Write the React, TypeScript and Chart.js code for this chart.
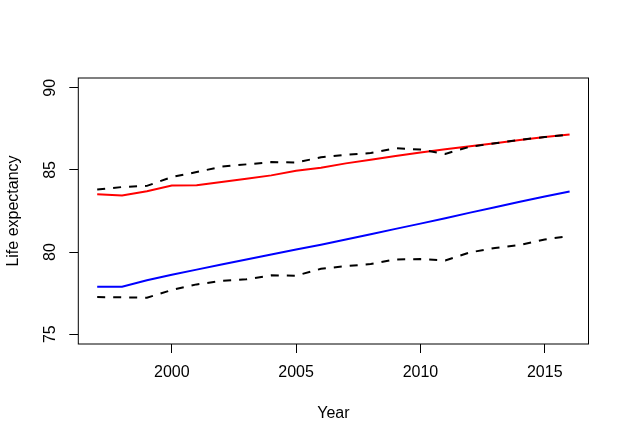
import React, { useEffect, useRef } from 'react';
import Chart from 'chart.js/auto';

const years = [1997, 1998, 1999, 2000, 2001, 2002, 2003, 2004, 2005, 2006, 2007, 2008, 2009, 2010, 2011, 2012, 2013, 2014, 2015, 2016];
const femaleLine = [83.52, 83.45, 83.7, 84.05, 84.07, 84.26, 84.47, 84.67, 84.95, 85.13, 85.4, 85.62, 85.85, 86.06, 86.26, 86.45, 86.62, 86.82, 87.0, 87.16];
const femaleDashed = [83.81, 83.96, 84.03, 84.57, 84.87, 85.2, 85.34, 85.48, 85.45, 85.77, 85.93, 86.03, 86.32, 86.24, 85.98, 86.42, 86.62, 86.84, 87.0, 87.16];
const maleLine = [77.89, 77.89, 78.28, 78.62, 78.93, 79.24, 79.55, 79.85, 80.15, 80.45, 80.76, 81.08, 81.41, 81.73, 82.06, 82.4, 82.73, 83.06, 83.38, 83.69];
const maleDashed = [77.26, 77.24, 77.22, 77.69, 78.03, 78.24, 78.34, 78.58, 78.56, 78.98, 79.14, 79.27, 79.55, 79.57, 79.49, 79.98, 80.25, 80.43, 80.77, 80.97];
const xTicks = [2000, 2005, 2010, 2015];
const yTicks = [75, 80, 85, 90];
const yLimits = [75, 90];

const FONT = '"Liberation Sans", Arial, sans-serif';

// R-style 4% range extension
const pad = (lo: number, hi: number) => [lo - (hi - lo) * 0.04, hi + (hi - lo) * 0.04];

const pts = (vals: number[]) => years.map((y, i) => ({ x: y, y: vals[i] }));

const boxPlugin = {
  id: 'box',
  afterDraw(chart: any) {
    const { ctx, chartArea: a } = chart;
    ctx.save();
    ctx.strokeStyle = '#000';
    ctx.lineWidth = 1;
    ctx.strokeRect(a.left, a.top, a.right - a.left, a.bottom - a.top);
    ctx.restore();
  },
};

const App: React.FC = () => {
  const chartRef = useRef<HTMLCanvasElement>(null);
  const chartInstance = useRef<Chart | null>(null);

  useEffect(() => {
    if (chartInstance.current) {
      chartInstance.current.destroy();
    }
    if (!chartRef.current) return;
    const ctx = chartRef.current.getContext('2d');
    if (!ctx) return;

    const [xMin, xMax] = pad(years[0], years[years.length - 1]);
    const [yMin, yMax] = pad(yLimits[0], yLimits[1]);
    const tickFont = { family: FONT, size: 16 };

    // @ts-ignore
    chartInstance.current = new Chart(ctx, {
      type: 'line',
      data: {
        datasets: [
          { data: pts(femaleDashed), borderColor: '#000', borderDash: [8, 8], order: 1 },
          { data: pts(maleDashed), borderColor: '#000', borderDash: [8, 8], order: 1 },
          { data: pts(femaleLine), borderColor: '#ff0000', order: 2 },
          { data: pts(maleLine), borderColor: '#0000ff', order: 2 },
        ],
      },
      options: {
        animation: false,
        responsive: false,
        parsing: false,
        elements: {
          line: { borderWidth: 2, tension: 0, fill: false, borderCapStyle: 'butt' },
          point: { radius: 0, hoverRadius: 0 },
        },
        layout: { padding: { top: 78, right: 40.5, left: 0, bottom: 0 } },
        plugins: { legend: { display: false }, tooltip: { enabled: false } },
        scales: {
          x: {
            type: 'linear',
            min: xMin,
            max: xMax,
            afterBuildTicks: (s: any) => { s.ticks = xTicks.map((v) => ({ value: v })); },
            afterFit: (s: any) => { s.height = 98; },
            grid: { display: true, drawOnChartArea: false, drawTicks: true, tickLength: 9, tickColor: '#000', tickWidth: 1 },
            border: { display: false },
            ticks: { font: tickFont, color: '#000', padding: 10.4, maxRotation: 0, callback: (v: any) => String(v) },
            title: { display: true, text: 'Year', font: tickFont, color: '#000', padding: { top: 0, bottom: 19 } },
          },
          y: {
            type: 'linear',
            min: yMin,
            max: yMax,
            afterBuildTicks: (s: any) => { s.ticks = yTicks.map((v) => ({ value: v })); },
            afterFit: (s: any) => { s.width = 78.3; },
            grid: { display: true, drawOnChartArea: false, drawTicks: true, tickLength: 9, tickColor: '#000', tickWidth: 1 },
            border: { display: false },
            ticks: { font: tickFont, color: '#000', padding: 10, minRotation: 90, maxRotation: 90, crossAlign: 'center', callback: (v: any) => String(v) },
            title: { display: true, text: 'Life expectancy', font: tickFont, color: '#000', padding: { top: 4.4, bottom: 0 } },
          },
        },
      },
      plugins: [boxPlugin],
    });

    return () => {
      if (chartInstance.current) {
        chartInstance.current.destroy();
        chartInstance.current = null;
      }
    };
  }, []);

  return (
    <div style={{ position: 'absolute', left: 0, top: 0, width: 629, height: 442, background: '#fff' }}>
      <canvas ref={chartRef} width={629} height={442}></canvas>
    </div>
  );
};

export default App;
